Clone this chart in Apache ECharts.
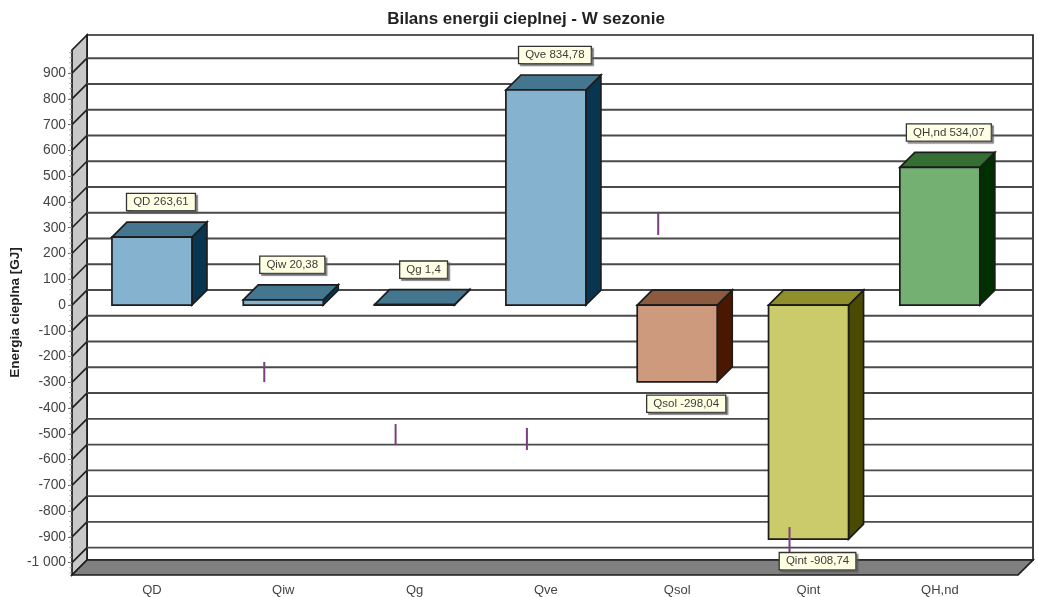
<!DOCTYPE html>
<html>
<head>
<meta charset="utf-8">
<style>html,body{margin:0;padding:0;background:#fff}#chart{width:1038px;height:597px}</style>
<script src="https://cdn.jsdelivr.net/npm/echarts@6/dist/echarts.min.js"></script>
</head>
<body>
<div id="chart"></div>
<script>
// Heat balance for the season, drawn as pseudo-3D columns in a box frame.
var categories = ['QD', 'Qiw', 'Qg', 'Qve', 'Qsol', 'Qint', 'QH,nd'];
var values = [263.61, 20.38, 1.4, 834.78, -298.04, -908.74, 534.07];
var valueLabels = ['263,61', '20,38', '1,4', '834,78', '-298,04', '-908,74', '534,07'];
var yTicks = [-1000, -900, -800, -700, -600, -500, -400, -300, -200, -100, 0, 100, 200, 300, 400, 500, 600, 700, 800, 900];
var frontColors = ['#85B3CF', '#85B3CF', '#85B3CF', '#85B3CF', '#CD9A7E', '#CCCB6B', '#75B073'];
var topColors = ['#45768F', '#45768F', '#45768F', '#45768F', '#8C5A3E', '#8F8F2B', '#356F33'];
var sideColors = ['#083650', '#083650', '#083650', '#083650', '#4A1800', '#4A4A00', '#003000'];
// Short vertical markers: category, upper and lower value.
var markerCategory = ['Qiw', 'Qg', 'Qve', 'Qsol', 'Qint'];
var markerHigh = [-221, -462, -477, 357, -862];
var markerLow = [-299, -543, -563, 272, -963];

var DEPTH = 15;
var BAR_WIDTH = 80;
var AXIS_MIN = -1048;
var AXIS_MAX = 990;
var MINOR_STEP = 20;
var LINE = '#1c1c1c';
var FONT = '"Liberation Sans", Arial, sans-serif';

function formatTick(v) {
  return String(v).replace(/(\d)(\d{3})$/, '$1 $2');
}

function poly(points, fill, stroke, width) {
  return {
    type: 'polygon',
    shape: { points: points },
    style: { fill: fill, stroke: stroke || LINE, lineWidth: width === undefined ? 1.7 : width, lineJoin: 'miter' }
  };
}

function line(x1, y1, x2, y2, color, width) {
  return {
    type: 'line',
    shape: { x1: x1, y1: y1, x2: x2, y2: y2 },
    style: { stroke: color, lineWidth: width }
  };
}

// Walls, floor, gridlines and minor ticks of the box.
function renderFrame(params, api) {
  var yTop = api.coord([0, AXIS_MAX])[1];
  var yBottom = api.coord([0, AXIS_MIN])[1];
  var xLeft = 72;
  var xRight = 1018;
  var d = DEPTH;
  var kids = [
    poly([[xLeft + d, yTop - d], [xRight + d, yTop - d], [xRight + d, yBottom - d], [xLeft + d, yBottom - d]], '#ffffff', '#222', 1.7),
    poly([[xLeft, yTop], [xLeft + d, yTop - d], [xLeft + d, yBottom - d], [xLeft, yBottom]], '#C8C8C8', LINE, 1.7)
  ];
  yTicks.forEach(function (t) {
    var y = api.coord([0, t])[1];
    kids.push(line(xLeft + d, y - d, xRight + d, y - d, '#4a4a4a', 1.9));
    kids.push(line(xLeft, y, xLeft + d, y - d, '#222', 1.7));
  });
  for (var v = -1040; v <= AXIS_MAX; v += MINOR_STEP) {
    var my = api.coord([0, v])[1];
    kids.push(line(xLeft - 2.5, my, xLeft, my, '#999', 1));
  }
  kids.push(poly([[xLeft, yBottom], [xLeft + d, yBottom - d], [xRight + d, yBottom - d], [xRight, yBottom]], '#808080', LINE, 1.7));
  return { type: 'group', children: kids };
}

// One column: front face, top face and right side.
function renderColumn(params, api) {
  var i = api.value(0);
  var v = api.value(1);
  var zero = api.coord([i, 0]);
  var end = api.coord([i, v]);
  var x0 = zero[0] - BAR_WIDTH / 2;
  var x1 = x0 + BAR_WIDTH;
  var yT = Math.min(zero[1], end[1]);
  var yB = Math.max(zero[1], end[1]);
  var d = DEPTH;
  return {
    type: 'group',
    children: [
      poly([[x1, yT], [x1 + d, yT - d], [x1 + d, yB - d], [x1, yB]], sideColors[i]),
      poly([[x0, yT], [x0 + d, yT - d], [x1 + d, yT - d], [x1, yT]], topColors[i]),
      poly([[x0, yT], [x1, yT], [x1, yB], [x0, yB]], frontColors[i])
    ]
  };
}

function renderMarker(params, api) {
  var hi = api.coord([api.value(0), api.value(1)]);
  var lo = api.coord([api.value(0), api.value(2)]);
  return line(hi[0] - 19, hi[1], lo[0] - 19, lo[1], '#7A3F7E', 2);
}

// Boxed value caption above positive columns and below negative ones.
function renderCaption(params, api) {
  var i = api.value(0);
  var v = api.value(1);
  var p = api.coord([i, v]);
  return {
    type: 'text',
    x: p[0] + 9,
    y: v >= 0 ? p[1] - 35 : p[1] + 22,
    style: {
      text: categories[i] + ' ' + valueLabels[i],
      font: '11.5px ' + FONT,
      fill: '#3c3c3c',
      align: 'center',
      verticalAlign: 'middle',
      backgroundColor: '#FFFFE4',
      borderColor: '#333',
      borderWidth: 1.3,
      padding: [2, 6, 2, 6],
      shadowColor: 'rgba(90,90,90,0.7)',
      shadowBlur: 1,
      shadowOffsetX: 2,
      shadowOffsetY: 2
    }
  };
}

var chart = echarts.init(document.getElementById('chart'), null, { renderer: 'canvas' });
chart.setOption({
  animation: false,
  backgroundColor: '#ffffff',
  title: {
    text: 'Bilans energii cieplnej - W sezonie',
    left: 521,
    top: 6,
    textAlign: 'center',
    textStyle: { fontFamily: FONT, fontSize: 17, fontWeight: 'bold', color: '#222' }
  },
  grid: { left: 86.3, top: 50, width: 919.2, height: 525, outerBoundsMode: 'none' },
  xAxis: {
    type: 'category',
    data: categories,
    axisLine: { show: false },
    axisTick: { show: true, alignWithLabel: true, length: 4, lineStyle: { color: '#888' } },
    axisLabel: { fontFamily: FONT, fontSize: 13, color: '#444', margin: 9 },
    splitLine: { show: false }
  },
  yAxis: {
    type: 'value',
    min: AXIS_MIN,
    max: AXIS_MAX,
    offset: 14.3,
    name: 'Energia cieplna [GJ]',
    nameLocation: 'middle',
    nameRotate: 90,
    nameGap: 50,
    nameMoveOverlap: false,
    nameTextStyle: { fontFamily: FONT, fontSize: 13.5, fontWeight: 'bold', color: '#222' },
    axisLine: { show: false },
    axisTick: { show: true, length: 4, customValues: yTicks, lineStyle: { color: '#666' } },
    axisLabel: { fontFamily: FONT, fontSize: 13.8, color: '#444', margin: 6, customValues: yTicks, formatter: formatTick },
    splitLine: { show: false }
  },
  series: [
    { type: 'custom', name: 'frame', z: 1, silent: true, renderItem: renderFrame, data: [[0, 0]], encode: { x: 0, y: 1 } },
    { type: 'custom', name: 'columns', z: 3, silent: true, renderItem: renderColumn,
      data: values.map(function (v, i) { return [i, v]; }), encode: { x: 0, y: 1 } },
    { type: 'custom', name: 'markers', z: 4, silent: true, renderItem: renderMarker,
      data: markerCategory.map(function (c, i) { return [categories.indexOf(c), markerHigh[i], markerLow[i]]; }), encode: { x: 0, y: [1, 2] } },
    { type: 'custom', name: 'captions', z: 5, silent: true, renderItem: renderCaption,
      data: values.map(function (v, i) { return [i, v]; }), encode: { x: 0, y: 1 } }
  ]
});
</script>
</body>
</html>
